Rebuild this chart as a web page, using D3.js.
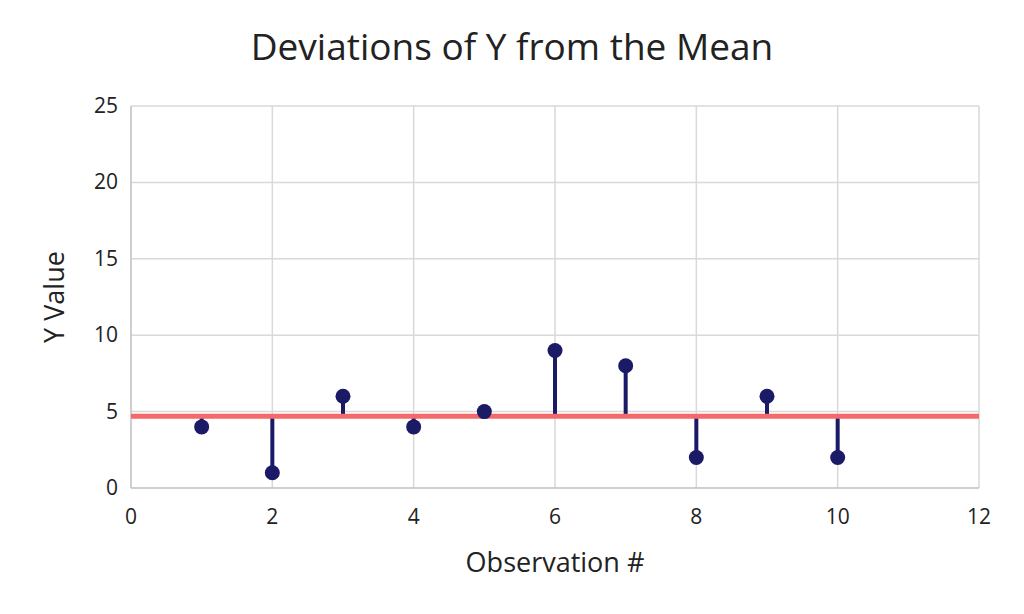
<!DOCTYPE html>
<html><head><meta charset="utf-8">
<script src="https://cdn.jsdelivr.net/npm/d3@7"></script>
<style>body{margin:0;background:#fff}text{font-family:"Open Sans",sans-serif;fill:#222}</style>
</head><body><svg width="1024" height="614"></svg>
<script>
const obs=[1,2,3,4,5,6,7,8,9,10];
const yvals=[4,1,6,4,5,9,8,2,6,2];
const xTicks=[0,2,4,6,8,10,12];
const yTicks=[0,5,10,15,20,25];
const mean=d3.mean(yvals);
const svg=d3.select("svg");
const x=d3.scaleLinear().domain([0,12]).range([131,979]);
const y=d3.scaleLinear().domain([0,25]).range([488,106]);
svg.append("g").selectAll("line").data(xTicks.slice(1)).join("line")
 .attr("x1",d=>x(d)).attr("x2",d=>x(d)).attr("y1",y(0)).attr("y2",y(25)).attr("stroke","#d9d9d9").attr("stroke-width",1.5);
svg.append("g").selectAll("line").data(yTicks.slice(1)).join("line")
 .attr("x1",x(0)).attr("x2",x(12)).attr("y1",d=>y(d)).attr("y2",d=>y(d)).attr("stroke","#d9d9d9").attr("stroke-width",1.5);
svg.append("line").attr("x1",x(0)).attr("x2",x(0)).attr("y1",y(0)).attr("y2",y(25)).attr("stroke","#bfbfbf").attr("stroke-width",1.5);
svg.append("line").attr("x1",x(0)).attr("x2",x(12)).attr("y1",y(0)).attr("y2",y(0)).attr("stroke","#bfbfbf").attr("stroke-width",1.5);
svg.append("g").selectAll("text").data(xTicks).join("text").attr("x",d=>x(d)).attr("y",y(0)+36).attr("text-anchor","middle").attr("font-size",21).text(d=>d);
svg.append("g").selectAll("text").data(yTicks).join("text").attr("x",x(0)-13).attr("y",d=>y(d)+7).attr("text-anchor","end").attr("font-size",21).text(d=>d);
svg.append("g").selectAll("line").data(obs).join("line")
 .attr("x1",d=>x(d)).attr("x2",d=>x(d)).attr("y1",y(mean)).attr("y2",(d,i)=>y(yvals[i])).attr("stroke","#1a1a66").attr("stroke-width",4);
svg.append("line").attr("x1",x(0)).attr("x2",x(12)).attr("y1",y(mean)).attr("y2",y(mean)).attr("stroke","#f46a6a").attr("stroke-width",5);
svg.append("g").selectAll("circle").data(obs).join("circle")
 .attr("cx",d=>x(d)).attr("cy",(d,i)=>y(yvals[i])).attr("r",7.5).attr("fill","#1a1a66");
svg.append("text").attr("x",512).attr("y",60).attr("text-anchor","middle").attr("font-size",37).text("Deviations of Y from the Mean");
svg.append("text").attr("x",555).attr("y",572).attr("text-anchor","middle").attr("font-size",27).text("Observation #");
svg.append("text").attr("transform","translate(64,297) rotate(-90)").attr("text-anchor","middle").attr("font-size",27).text("Y Value");
</script></body></html>
